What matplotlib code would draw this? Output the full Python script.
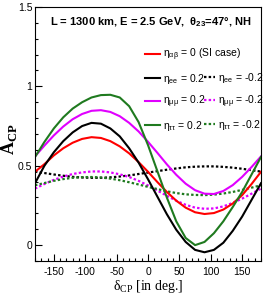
import matplotlib
matplotlib.use('Agg')
import matplotlib.pyplot as plt
from matplotlib.ticker import MultipleLocator, FormatStrFormatter

plt.rcParams['font.family'] = ['Liberation Sans Narrow', 'Liberation Sans', 'DejaVu Sans']
plt.rcParams['axes.unicode_minus'] = False

# delta_CP in degrees
delta = [-180, -165, -150, -135, -120, -105, -90, -75, -60, -45, -30, -15, 0,
         15, 30, 45, 60, 75, 90, 105, 120, 135, 150, 165, 180]

# A_CP, SI case
si = [0.462, 0.51, 0.565, 0.61, 0.645, 0.669, 0.68, 0.675, 0.655, 0.622, 0.578, 0.523, 0.462,
      0.397, 0.335, 0.28, 0.236, 0.207, 0.196, 0.202, 0.224, 0.262, 0.315, 0.385, 0.462]
# eta = +0.2
ee_pos = [0.39, 0.50, 0.585, 0.655, 0.71, 0.75, 0.77, 0.765, 0.735, 0.685, 0.61, 0.52, 0.415,
          0.305, 0.195, 0.097, 0.02, -0.03, -0.045, -0.03, 0.015, 0.09, 0.18, 0.285, 0.39]
mm_pos = [0.559, 0.627, 0.691, 0.747, 0.793, 0.826, 0.846, 0.850, 0.839, 0.812, 0.770, 0.716, 0.651,
          0.581, 0.509, 0.443, 0.387, 0.346, 0.324, 0.322, 0.341, 0.378, 0.430, 0.492, 0.559]
tt_pos = [0.555, 0.65, 0.735, 0.805, 0.86, 0.9, 0.93, 0.945, 0.947, 0.93, 0.875, 0.775, 0.63,
          0.465, 0.30, 0.15, 0.045, 0.0, 0.02, 0.075, 0.15, 0.24, 0.335, 0.445, 0.555]
# eta = -0.2
ee_neg = [0.463, 0.454, 0.445, 0.437, 0.430, 0.426, 0.424, 0.424, 0.427, 0.432, 0.439, 0.448, 0.457,
          0.466, 0.475, 0.483, 0.490, 0.494, 0.496, 0.496, 0.493, 0.488, 0.481, 0.472, 0.463]
mm_neg = [0.356, 0.385, 0.411, 0.432, 0.448, 0.458, 0.464, 0.464, 0.458, 0.446, 0.429, 0.405, 0.376,
          0.344, 0.311, 0.280, 0.254, 0.236, 0.229, 0.231, 0.244, 0.266, 0.293, 0.324, 0.356]
tt_neg = [0.377, 0.391, 0.405, 0.416, 0.424, 0.428, 0.429, 0.426, 0.419, 0.409, 0.396, 0.382, 0.367,
          0.353, 0.339, 0.328, 0.320, 0.316, 0.315, 0.318, 0.325, 0.335, 0.348, 0.362, 0.377]

RED = '#ff0000'
BLK = '#000000'
MAG = '#e000ff'
GRN = '#1f7a1f'
DOT = (0, (1.1, 1.0))

fig = plt.figure(figsize=(2.66, 3.0), dpi=100)
ax = fig.add_axes([0.1316, 0.13, 0.8496, 0.8467])

l_ee_n, = ax.plot(delta, ee_neg, color=BLK, lw=1.6, ls=DOT)
l_mm_n, = ax.plot(delta, mm_neg, color=MAG, lw=1.6, ls=DOT)
l_tt_n, = ax.plot(delta, tt_neg, color=GRN, lw=1.6, ls=DOT)
l_si, = ax.plot(delta, si, color=RED, lw=1.5)
l_ee, = ax.plot(delta, ee_pos, color=BLK, lw=1.5)
l_mm, = ax.plot(delta, mm_pos, color=MAG, lw=1.5)
l_tt, = ax.plot(delta, tt_pos, color=GRN, lw=1.5)

ax.set_xlim(-180, 180)
ax.set_ylim(-0.1, 1.5)
ax.xaxis.set_major_locator(MultipleLocator(50))
ax.xaxis.set_minor_locator(MultipleLocator(10))
ax.yaxis.set_major_locator(MultipleLocator(0.5))
ax.yaxis.set_minor_locator(MultipleLocator(0.1))
ax.yaxis.set_major_formatter(FormatStrFormatter('%g'))
ax.tick_params(which='both', direction='in', labelsize=7.5, width=0.8)
ax.tick_params(which='major', length=5)
ax.tick_params(which='minor', length=2.5)
ax.tick_params(axis='x', which='major', pad=4)
ax.tick_params(axis='y', which='major', pad=2)
for s in ax.spines.values():
    s.set_linewidth(0.8)

ax.set_xlabel('δ$_{\\mathregular{CP}}$ [in deg.]', fontfamily='Liberation Serif', fontsize=10)
ax.xaxis.set_label_coords(0.5, -0.066)
ax.set_ylabel('A$_{\\mathregular{CP}}$', fontfamily='Liberation Serif', fontweight='bold', fontsize=13)
ax.yaxis.set_label_coords(-0.07, 0.478)

ax.text(0.513, 0.929, 'L = 1300 km, E = 2.5 GeV,  θ$_{\\mathregular{23}}$=47°, NH',
        transform=ax.transAxes, ha='center', va='baseline', fontsize=8, fontweight='bold')

kw = dict(frameon=False, fontsize=7.5, handletextpad=0.3,
          labelspacing=0.8, borderpad=0, borderaxespad=0, loc='upper left')
leg1 = ax.legend([l_si, l_ee, l_mm, l_tt],
                 ['η$_{\\mathregular{αβ}}$ = 0 (SI case)', 'η$_{\\mathregular{ee}}$ = 0.2',
                  'η$_{\\mathregular{μμ}}$ = 0.2', 'η$_{\\mathregular{ττ}}$ = 0.2'],
                 bbox_to_anchor=(0.487, 0.843), handlelength=1.45, **kw)
ax.add_artist(leg1)
ax.legend([l_ee_n, l_mm_n, l_tt_n],
          ['η$_{\\mathregular{ee}}$ = -0.2', 'η$_{\\mathregular{μμ}}$ = -0.2', 'η$_{\\mathregular{ττ}}$ = -0.2'],
          bbox_to_anchor=(0.748, 0.748), handlelength=1.05, **kw)

fig.savefig('out.png', dpi=100)
